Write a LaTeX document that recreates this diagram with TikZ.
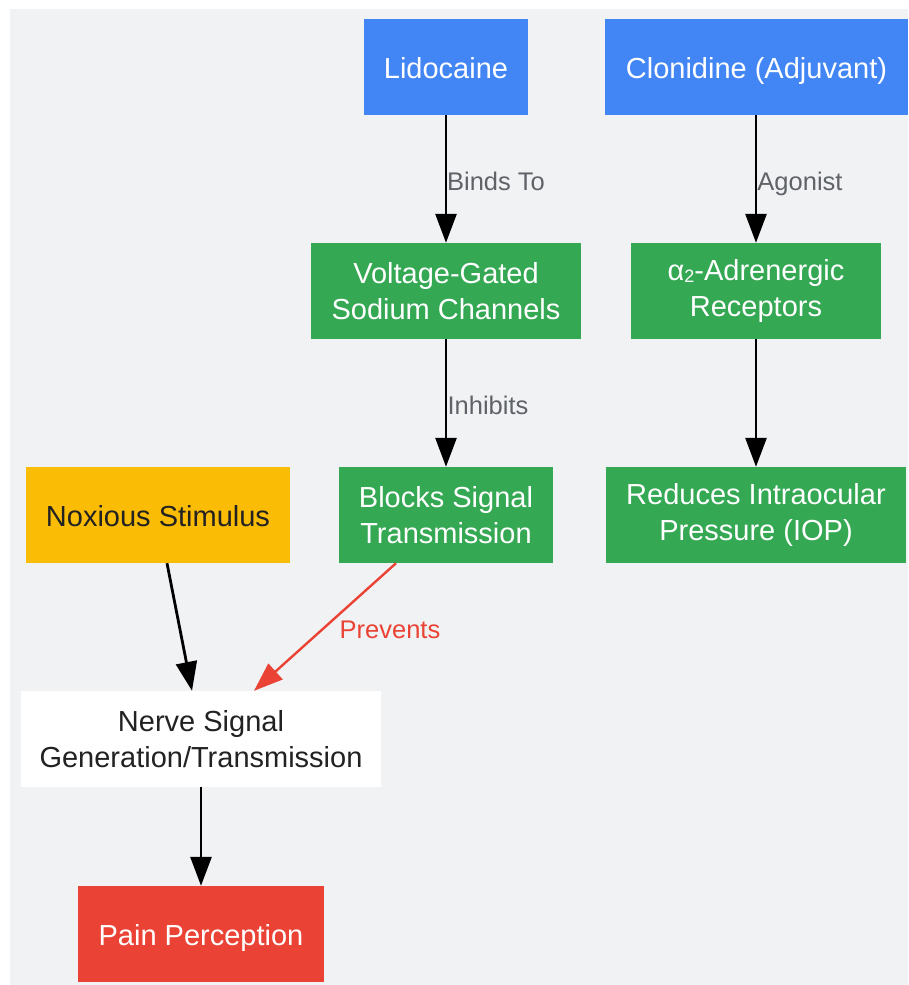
\documentclass[tikz,border=0pt]{standalone}
\usepackage{fontspec}
\setmainfont{Liberation Sans}
\usetikzlibrary{arrows.meta}
\definecolor{bg}{HTML}{F1F2F4}
\definecolor{gblue}{HTML}{4285F4}
\definecolor{ggreen}{HTML}{34A853}
\definecolor{gyellow}{HTML}{FBBC05}
\definecolor{gred}{HTML}{EA4335}
\definecolor{darktext}{HTML}{222222}
\definecolor{labelgray}{HTML}{5F6368}
\tikzset{
  box/.style={draw=none, inner sep=0pt, align=center, font=\fontsize{29}{36}\selectfont, text=white},
  oneline/.style={text height=22pt, text depth=0pt},
  edgelabel/.style={inner sep=0pt, anchor=base, font=\fontsize{25.5}{30}\selectfont, text=labelgray},
  conn/.style={line width=2.8pt, -{Triangle[length=29pt,width=21pt]}},
}
\begin{document}
\begin{tikzpicture}[x=1pt,y=-1pt]
\useasboundingbox (0,0) rectangle (908,985);
\fill[white] (0,0) rectangle (908,985);
\fill[bg] (10,9) rectangle (908,985);

\node[box, oneline, fill=gblue, minimum width=164pt, minimum height=96pt] (lido) at (446,67) {Lidocaine};
\node[box, oneline, fill=gblue, minimum width=303pt, minimum height=96pt] (clon) at (756.5,67) {Clonidine (Adjuvant)};
\node[box, fill=ggreen, minimum width=270pt, minimum height=96pt] (vgsc) at (446,291) {Voltage-Gated\\Sodium Channels};
\node[box, fill=ggreen, minimum width=250pt, minimum height=96pt] (alpha) at (756,291) {α\raisebox{-1.5pt}{\fontsize{18}{18}\selectfont 2}-Adrenergic\\Receptors};
\node[box, fill=ggreen, minimum width=214pt, minimum height=96pt] (block) at (446,515) {Blocks Signal\\Transmission};
\node[box, fill=ggreen, minimum width=300pt, minimum height=96pt] (iop) at (756,515) {Reduces Intraocular\\Pressure (IOP)};
\node[box, oneline, fill=gyellow, text=darktext, minimum width=264pt, minimum height=96pt] (nox) at (158,515) {Noxious Stimulus};
\node[box, fill=white, text=darktext, minimum width=360pt, minimum height=96pt] (nerve) at (201,739) {Nerve Signal\\Generation/Transmission};
\node[box, oneline, fill=gred, minimum width=246pt, minimum height=96pt] (pain) at (201,934) {Pain Perception};

\draw[conn] (lido.south) -- (vgsc.north);
\draw[conn] (clon.south -| alpha.north) -- (alpha.north);
\draw[conn] (vgsc.south) -- (block.north);
\draw[conn] (alpha.south) -- (iop.north);
\draw[conn] ([xshift=9pt]nox.south) -- ([xshift=-9pt]nerve.north);
\draw[conn, draw=gred, fill=gred, line width=2.4pt] ([xshift=-50pt]block.south) -- ([xshift=53pt]nerve.north);
\draw[conn] (nerve.south) -- (pain.north);

\node[edgelabel] (l1) at (496,190.5) {Binds To};
\node[edgelabel] (l2) at (800,190.5) {Agonist};
\node[edgelabel] (l3) at (488,414.5) {Inhibits};
\node[edgelabel, text=gred] (l4) at (390,638.5) {Prevents};
\end{tikzpicture}
\end{document}
